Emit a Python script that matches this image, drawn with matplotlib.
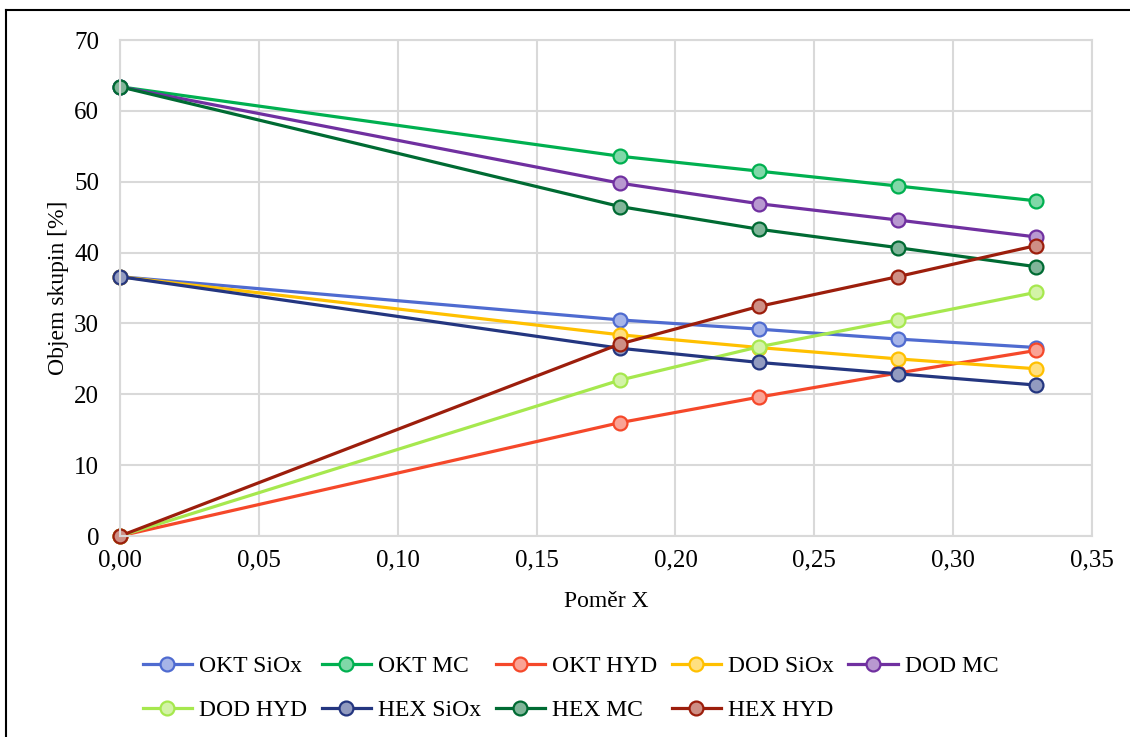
import matplotlib.pyplot as plt
from matplotlib.lines import Line2D
from matplotlib.ticker import FuncFormatter
from matplotlib.colors import to_rgb

plt.rcParams['font.family'] = ['Liberation Serif', 'DejaVu Serif']

# Poměr X
x = [0.00, 0.18, 0.23, 0.28, 0.33]

okt_siox = [36.6, 30.5, 29.2, 27.8, 26.6]
okt_mc = [63.4, 53.6, 51.5, 49.4, 47.3]
okt_hyd = [0.0, 16.0, 19.6, 23.0, 26.2]
dod_siox = [36.6, 28.4, 26.6, 25.0, 23.6]
dod_mc = [63.4, 49.8, 46.9, 44.6, 42.2]
dod_hyd = [0.0, 22.0, 26.7, 30.5, 34.4]
hex_siox = [36.6, 26.5, 24.5, 22.9, 21.3]
hex_mc = [63.4, 46.5, 43.3, 40.7, 38.0]
hex_hyd = [0.0, 27.1, 32.4, 36.6, 41.0]

labels = ['OKT SiOx', 'OKT MC', 'OKT HYD', 'DOD SiOx', 'DOD MC',
          'DOD HYD', 'HEX SiOx', 'HEX MC', 'HEX HYD']
series = [okt_siox, okt_mc, okt_hyd, dod_siox, dod_mc,
          dod_hyd, hex_siox, hex_mc, hex_hyd]
colors = ['#4F6BD0', '#00B050', '#F5482A', '#FFC000', '#7030A0',
          '#A6E84E', '#243680', '#006B33', '#9C1E0C']


def lighten(c, k=0.5):
    r, g, b = to_rgb(c)
    return (r + (1 - r) * k, g + (1 - g) * k, b + (1 - b) * k)


fig = plt.figure(figsize=(11.3, 7.37), dpi=100)
ax = fig.add_axes([0.1062, 0.2727, 0.8602, 0.673])

handles = []
for y, lab, c in zip(series, labels, colors):
    h, = ax.plot(x, y, color=c, linewidth=2.3, marker='o', markersize=10,
                 markerfacecolor=lighten(c), markeredgecolor=c,
                 markeredgewidth=1.6, label=lab, clip_on=False)
    handles.append(h)

ax.set_xlim(0, 0.35)
ax.set_ylim(0, 70)
ax.set_xticks([i * 0.05 for i in range(8)])
ax.set_yticks(range(0, 71, 10))
ax.xaxis.set_major_formatter(FuncFormatter(lambda v, p: f'{v:.2f}'.replace('.', ',')))
ax.tick_params(axis='both', length=0, labelsize=18)
ax.tick_params(axis='y', pad=15)
ax.tick_params(axis='x', pad=10)

ax.grid(True, color='#D9D9D9', linewidth=1.5)
ax.set_axisbelow(True)
for s in ax.spines.values():
    s.set_color('#D9D9D9')
    s.set_linewidth(1.5)

ax.set_xlabel('Poměr X', fontsize=17, labelpad=14)
ax.set_ylabel('Objem skupin [%]', fontsize=17, labelpad=4)

# legenda po řádcích: 5 + 4 položky
order = [0, 5, 1, 6, 2, 7, 3, 8, 4]
fig.legend([handles[i] for i in order], [labels[i] for i in order],
           loc='center', bbox_to_anchor=(0.505, 0.066), ncol=5,
           frameon=False, fontsize=17, handlelength=2.1, handletextpad=0.3,
           columnspacing=0.6, labelspacing=0.95)

# rámeček grafu
fig.add_artist(Line2D([6 / 1130, 6 / 1130], [0, 1 - 10 / 737],
                      color='black', linewidth=1.5, transform=fig.transFigure))
fig.add_artist(Line2D([6 / 1130, 1], [1 - 10 / 737, 1 - 10 / 737],
                      color='black', linewidth=1.5, transform=fig.transFigure))

fig.savefig('out.png', dpi=100)
